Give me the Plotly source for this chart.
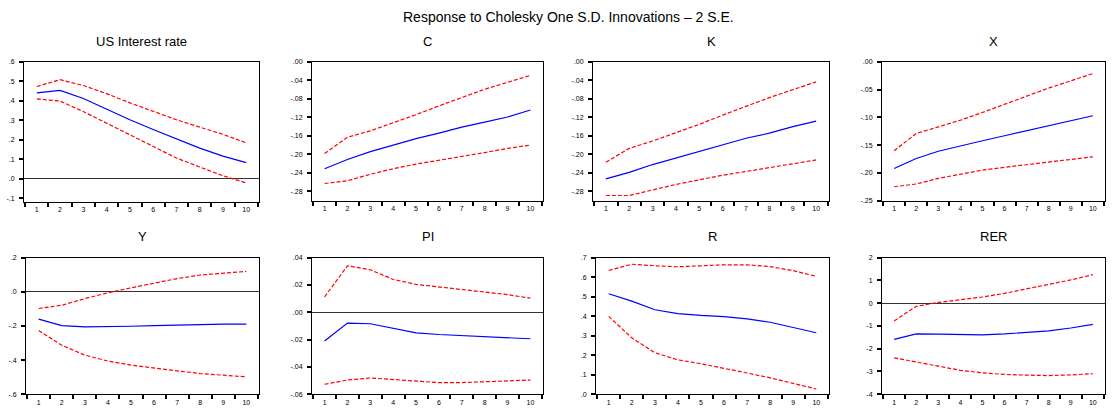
import plotly.graph_objects as go

periods = list(range(1, 11))

panel_titles = ["US Interest rate", "C", "K", "X", "Y", "PI", "R", "RER"]

us_resp = [0.441, 0.454, 0.412, 0.357, 0.303, 0.253, 0.203, 0.157, 0.116, 0.082]
us_up = [0.474, 0.509, 0.479, 0.437, 0.390, 0.345, 0.303, 0.265, 0.228, 0.184]
us_lo = [0.410, 0.399, 0.345, 0.286, 0.228, 0.166, 0.106, 0.060, 0.015, -0.022]

c_resp = [-0.231, -0.211, -0.194, -0.180, -0.166, -0.154, -0.141, -0.130, -0.119, -0.104]
c_up = [-0.198, -0.163, -0.149, -0.132, -0.114, -0.095, -0.077, -0.059, -0.044, -0.029]
c_lo = [-0.263, -0.257, -0.243, -0.231, -0.221, -0.213, -0.204, -0.196, -0.187, -0.180]

k_resp = [-0.253, -0.239, -0.222, -0.208, -0.194, -0.179, -0.165, -0.154, -0.140, -0.128]
k_up = [-0.217, -0.187, -0.171, -0.153, -0.135, -0.115, -0.096, -0.077, -0.060, -0.043]
k_lo = [-0.289, -0.289, -0.277, -0.265, -0.255, -0.245, -0.237, -0.229, -0.220, -0.212]

x_resp = [-0.192, -0.174, -0.161, -0.151, -0.142, -0.133, -0.124, -0.115, -0.106, -0.097]
x_up = [-0.160, -0.129, -0.117, -0.105, -0.091, -0.076, -0.061, -0.047, -0.034, -0.021]
x_lo = [-0.225, -0.220, -0.210, -0.202, -0.195, -0.190, -0.185, -0.180, -0.176, -0.171]

y_resp = [-0.160, -0.198, -0.206, -0.206, -0.202, -0.198, -0.194, -0.192, -0.190, -0.190]
y_up = [-0.098, -0.079, -0.040, -0.006, 0.023, 0.052, 0.077, 0.098, 0.110, 0.119]
y_lo = [-0.227, -0.313, -0.371, -0.406, -0.429, -0.448, -0.463, -0.479, -0.488, -0.498]

pi_resp = [-0.0211, -0.0079, -0.0084, -0.0120, -0.0151, -0.0163, -0.0172, -0.0180, -0.0187, -0.0194]
pi_up = [0.0113, 0.0340, 0.0311, 0.0240, 0.0204, 0.0184, 0.0168, 0.0149, 0.0129, 0.0103]
pi_lo = [-0.0527, -0.0496, -0.0481, -0.0491, -0.0505, -0.0515, -0.0515, -0.0508, -0.0503, -0.0496]

r_resp = [0.515, 0.477, 0.433, 0.413, 0.404, 0.398, 0.386, 0.369, 0.342, 0.315]
r_up = [0.634, 0.666, 0.658, 0.653, 0.658, 0.663, 0.663, 0.654, 0.633, 0.604]
r_lo = [0.399, 0.289, 0.213, 0.176, 0.156, 0.134, 0.109, 0.084, 0.054, 0.027]

rer_resp = [-1.59, -1.35, -1.36, -1.39, -1.39, -1.35, -1.29, -1.22, -1.09, -0.93]
rer_up = [-0.78, -0.14, 0.03, 0.14, 0.27, 0.43, 0.62, 0.82, 1.02, 1.25]
rer_lo = [-2.40, -2.59, -2.79, -2.95, -3.06, -3.13, -3.16, -3.18, -3.15, -3.10]

us_tickvals = [-0.1, 0.0, 0.1, 0.2, 0.3, 0.4, 0.5, 0.6]
us_ticktext = ["-.1", ".0", ".1", ".2", ".3", ".4", ".5", ".6"]
ck_tickvals = [-0.28, -0.24, -0.20, -0.16, -0.12, -0.08, -0.04, 0.0]
ck_ticktext = ["-.28", "-.24", "-.20", "-.16", "-.12", "-.08", "-.04", ".00"]
x_tickvals = [-0.25, -0.20, -0.15, -0.10, -0.05, 0.0]
x_ticktext = ["-.25", "-.20", "-.15", "-.10", "-.05", ".00"]
y_tickvals = [-0.6, -0.4, -0.2, 0.0, 0.2]
y_ticktext = ["-.6", "-.4", "-.2", ".0", ".2"]
pi_tickvals = [-0.06, -0.04, -0.02, 0.0, 0.02, 0.04]
pi_ticktext = ["-.06", "-.04", "-.02", ".00", ".02", ".04"]
r_tickvals = [0.0, 0.1, 0.2, 0.3, 0.4, 0.5, 0.6, 0.7]
r_ticktext = [".0", ".1", ".2", ".3", ".4", ".5", ".6", ".7"]
rer_tickvals = [-4, -3, -2, -1, 0, 1, 2]
rer_ticktext = ["-4", "-3", "-2", "-1", "0", "1", "2"]

panels = [
    (us_resp, us_up, us_lo, [-0.118, 0.6], us_tickvals, us_ticktext),
    (c_resp, c_up, c_lo, [-0.30, 0.0], ck_tickvals, ck_ticktext),
    (k_resp, k_up, k_lo, [-0.30, 0.0], ck_tickvals, ck_ticktext),
    (x_resp, x_up, x_lo, [-0.25, 0.0], x_tickvals, x_ticktext),
    (y_resp, y_up, y_lo, [-0.6, 0.2], y_tickvals, y_ticktext),
    (pi_resp, pi_up, pi_lo, [-0.06, 0.04], pi_tickvals, pi_ticktext),
    (r_resp, r_up, r_lo, [0.0, 0.7], r_tickvals, r_ticktext),
    (rer_resp, rer_up, rer_lo, [-4, 2], rer_tickvals, rer_ticktext),
]

W, H = 1113, 411
# pixel boxes (left, right, top, bottom)
boxes = [
    (24, 259, 59, 201), (312, 543, 59, 200), (593, 829, 59, 200), (882, 1105, 59, 200),
    (26, 259, 258, 397), (312, 543, 258, 397), (596, 829, 258, 397), (882, 1105, 258, 397),
]

FONT = "Liberation Sans, Arial, sans-serif"
fig = go.Figure()
layout = dict(
    width=W, height=H, margin=dict(l=0, r=0, t=0, b=0),
    paper_bgcolor="white", plot_bgcolor="white", showlegend=False,
    font=dict(family=FONT, color="black"),
)
annotations = []
half_ticks = [i + 0.5 for i in range(0, 11)]

for i, (resp, up, lo, yr, tv, tt) in enumerate(panels):
    n = i + 1
    xa = "x" if n == 1 else f"x{n}"
    ya = "y" if n == 1 else f"y{n}"
    l, r, t, b = boxes[i]
    for series, color, dash in ((up, "#FF0000", "4px,2px"), (lo, "#FF0000", "4px,2px"), (resp, "#0000FF", "solid")):
        fig.add_trace(go.Scatter(x=periods, y=series, mode="lines", xaxis=xa, yaxis=ya,
                                 line=dict(color=color, width=1.2, dash=dash), hoverinfo="skip"))
    layout[f"xaxis{'' if n == 1 else n}"] = dict(
        domain=[l / W, r / W], anchor=ya, range=[0.45, 10.55],
        tickmode="array", tickvals=periods, ticktext=[str(p) for p in periods],
        ticks="", showgrid=False, zeroline=False,
        showline=True, linecolor="black", linewidth=1, mirror=True,
        tickfont=dict(size=7, family=FONT), ticklabelstandoff=1,
        minor=dict(tickmode="array", tickvals=half_ticks, ticks="outside", ticklen=4,
                   tickwidth=2, tickcolor="black", showgrid=False),
    )
    layout[f"yaxis{'' if n == 1 else n}"] = dict(
        domain=[1 - b / H, 1 - t / H], anchor=xa, range=yr,
        tickmode="array", tickvals=tv, ticktext=tt,
        ticks="outside", ticklen=4, tickwidth=2, tickcolor="black",
        showgrid=False, zeroline=True, zerolinecolor="#333333", zerolinewidth=1,
        showline=True, linecolor="black", linewidth=1, mirror=True,
        tickfont=dict(size=7, family=FONT), ticklabelstandoff=3,
    )
    annotations.append(dict(text=panel_titles[i], x=(l + r) / 2 / W, y=1 - (t - 21) / H,
                            xref="paper", yref="paper", showarrow=False,
                            font=dict(size=13, family=FONT), xanchor="center", yanchor="middle"))

annotations.append(dict(text="Response to Cholesky One S.D. Innovations \u2013 2 S.E.",
                        x=568 / W, y=1 - 13 / H, xref="paper", yref="paper", showarrow=False,
                        font=dict(size=14, family=FONT), xanchor="center", yanchor="middle"))
layout["annotations"] = annotations
fig.update_layout(**layout)
fig.write_html("out.html")
